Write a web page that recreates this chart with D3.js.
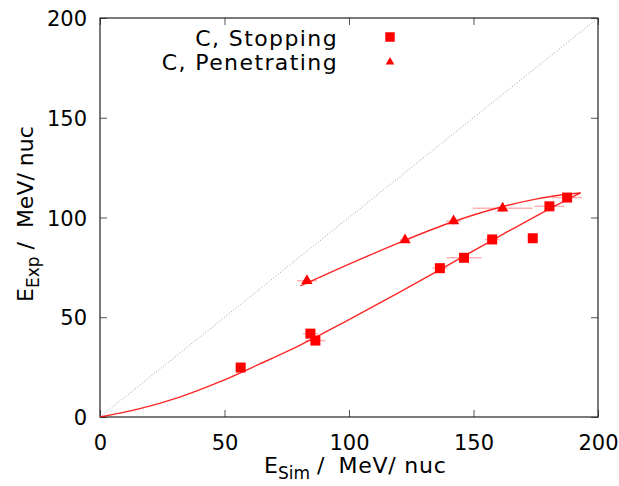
<!DOCTYPE html>
<html>
<head>
<meta charset="utf-8">
<script src="https://cdn.jsdelivr.net/npm/d3@7"></script>
<style>
  body { margin: 0; background: #fff; }
  text { font-family: "DejaVu Sans", sans-serif; fill: #000; }
</style>
</head>
<body>
<div id="chart"></div>
<script>
// stopping carbon points (E_sim, E_exp, errors)
var stopSim = [56.5, 84.5, 86.5, 136.5, 146.2, 157.5, 173.8, 180.5, 187.6];
var stopExp = [24.8, 41.8, 38.3, 74.6, 79.8, 89, 89.6, 105.6, 110];
var stopSimErr = [2, 3, 4, 3, 7, 3, 2, 6, 6];
var stopExpErr = [1.5, 2, 2, 1.5, 1.5, 1.5, 1, 2, 2];

// penetrating carbon points
var penSim = [83.1, 122.5, 142, 161.7];
var penExp = [68.3, 88.7, 98.2, 104.6];
var penSimErr = [4, 2, 3, 12];
var penExpErr = [2, 1.5, 2, 2];

// fit curves
var stopFitSim = [0, 16, 32, 48, 64, 80, 100, 120, 140, 160, 180, 193];
var stopFitExp = [0, 4.2, 10, 17.6, 26.5, 35.8, 48.8, 62.3, 76.3, 90.3, 104, 112.3];
var penFitSim = [80.5, 100, 120, 140, 160, 175, 185, 193];
var penFitExp = [65.7, 76.6, 87.3, 97.1, 104.9, 109.2, 111.3, 112.3];

var xTicks = [0, 50, 100, 150, 200];
var yTicks = [0, 50, 100, 150, 200];
var legendLabels = ["C, Stopping", "C, Penetrating"];

var margin = { top: 18, right: 21, bottom: 69, left: 100 },
    width = 619 - margin.left - margin.right,
    height = 486 - margin.top - margin.bottom;

var svg = d3.select("#chart")
    .append("svg")
    .attr("width", 619)
    .attr("height", 486)
    .append("g")
    .attr("transform", "translate(" + margin.left + "," + margin.top + ")");

var x = d3.scaleLinear().domain([0, 200]).range([0, width]);
var y = d3.scaleLinear().domain([0, 200]).range([height, 0]);

// clip for curves
svg.append("clipPath").attr("id", "clip")
    .append("rect").attr("width", width).attr("height", height);

// axes with inward ticks on all four sides
var bottom = svg.append("g")
    .attr("transform", "translate(0," + height + ")")
    .call(d3.axisBottom(x).tickValues(xTicks).tickSizeInner(-7).tickSizeOuter(0).tickPadding(18));
var left = svg.append("g")
    .call(d3.axisLeft(y).tickValues(yTicks).tickSizeInner(-7).tickSizeOuter(0).tickPadding(13));
svg.append("g")
    .call(d3.axisTop(x).tickValues(xTicks).tickSizeInner(-7).tickSizeOuter(0).tickFormat(""));
svg.append("g")
    .attr("transform", "translate(" + width + ",0)")
    .call(d3.axisRight(y).tickValues(yTicks).tickSizeInner(-7).tickSizeOuter(0).tickFormat(""));

svg.selectAll(".domain").remove();
svg.selectAll(".tick line").attr("stroke", "#555");
svg.selectAll(".tick text")
    .style("font-size", "21px")
    .attr("fill", "#000");
left.selectAll(".tick text").attr("dy", "0.36em");

svg.append("rect")
    .attr("width", width)
    .attr("height", height)
    .attr("fill", "none")
    .attr("stroke", "#222")
    .attr("stroke-width", 1.2);

// diagonal reference line
svg.append("line")
    .attr("x1", x(0)).attr("y1", y(0))
    .attr("x2", x(200)).attr("y2", y(200))
    .attr("stroke", "#999")
    .attr("stroke-width", 1)
    .style("stroke-dasharray", "1, 2");

// fit curves
var line = d3.line()
    .x(function (d) { return x(d[0]); })
    .y(function (d) { return y(d[1]); })
    .curve(d3.curveMonotoneX);

svg.append("path")
    .datum(d3.zip(stopFitSim, stopFitExp))
    .attr("clip-path", "url(#clip)")
    .attr("fill", "none")
    .attr("stroke", "rgba(255,0,0,0.85)")
    .attr("stroke-width", 1.4)
    .attr("d", line);

svg.append("path")
    .datum(d3.zip(penFitSim, penFitExp))
    .attr("fill", "none")
    .attr("stroke", "rgba(255,0,0,0.85)")
    .attr("stroke-width", 1.4)
    .attr("d", line);

// error bars
function errorBars(sim, exp, simErr, expErr) {
    var rows = d3.zip(sim, exp, simErr, expErr);
    svg.append("g").selectAll("line.h")
        .data(rows)
        .join("line")
        .attr("x1", function (d) { return x(d[0] - d[2]); })
        .attr("x2", function (d) { return x(d[0] + d[2]); })
        .attr("y1", function (d) { return y(d[1]); })
        .attr("y2", function (d) { return y(d[1]); })
        .attr("stroke", "rgba(255,0,0,0.3)")
        .attr("stroke-width", 1.5);
    svg.append("g").selectAll("line.v")
        .data(rows)
        .join("line")
        .attr("x1", function (d) { return x(d[0]); })
        .attr("x2", function (d) { return x(d[0]); })
        .attr("y1", function (d) { return y(d[1] - d[3]); })
        .attr("y2", function (d) { return y(d[1] + d[3]); })
        .attr("stroke", "rgba(255,0,0,0.3)")
        .attr("stroke-width", 1.5);
}
errorBars(stopSim, stopExp, stopSimErr, stopExpErr);
errorBars(penSim, penExp, penSimErr, penExpErr);

var square = d3.symbol().type(d3.symbolSquare).size(100);
var triangle = d3.symbol().type(d3.symbolTriangle).size(55);

svg.append("g").selectAll("path")
    .data(d3.zip(stopSim, stopExp))
    .join("path")
    .attr("d", square)
    .attr("transform", function (d) { return "translate(" + x(d[0]) + "," + y(d[1]) + ")"; })
    .attr("fill", "#ff0000");

svg.append("g").selectAll("path")
    .data(d3.zip(penSim, penExp))
    .join("path")
    .attr("d", triangle)
    .attr("transform", function (d) { return "translate(" + x(d[0]) + "," + y(d[1]) + ")"; })
    .attr("fill", "#ff0000");

// legend
var legend = svg.append("g");
legend.selectAll("text")
    .data(legendLabels)
    .join("text")
    .attr("x", 238)
    .attr("y", function (d, i) { return 28 + i * 24; })
    .attr("text-anchor", "end")
    .style("font-size", "22px")
    .style("letter-spacing", "1.4px")
    .text(function (d) { return d; });

legend.append("path")
    .attr("d", d3.symbol().type(d3.symbolSquare).size(90))
    .attr("transform", "translate(290,19)")
    .attr("fill", "#ff0000");
legend.append("path")
    .attr("d", d3.symbol().type(d3.symbolTriangle).size(32))
    .attr("transform", "translate(290,44)")
    .attr("fill", "#ff0000");

// axis labels
var xLabel = svg.append("text")
    .attr("x", 164)
    .attr("y", height + 56)
    .style("font-size", "22px")
    .style("white-space", "pre");
xLabel.append("tspan").text("E");
xLabel.append("tspan").attr("dy", 6).style("font-size", "17px").text("Sim");
xLabel.append("tspan").attr("dy", -6).text(" /  ");
xLabel.append("tspan").style("letter-spacing", "0.8px").text("MeV/ nuc");

var yLabel = svg.append("text")
    .attr("transform", "translate(" + (33 - margin.left) + "," + (302 - margin.top) + ") rotate(-90)")
    .style("font-size", "22px")
    .style("white-space", "pre");
yLabel.append("tspan").text("E");
yLabel.append("tspan").attr("dy", 6).style("font-size", "17px").text("Exp");
yLabel.append("tspan").attr("dy", -6).text(" /  MeV/ nuc");
</script>
</body>
</html>
